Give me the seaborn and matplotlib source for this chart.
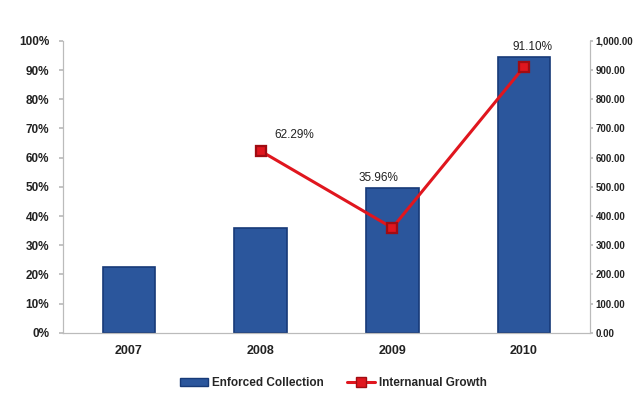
import matplotlib
matplotlib.use("Agg")
import matplotlib.pyplot as plt
from matplotlib.patches import Patch
from matplotlib.lines import Line2D
from matplotlib.ticker import FuncFormatter, MultipleLocator
import pandas as pd
import seaborn as sns

years = ["2007", "2008", "2009", "2010"]
enforced_collection = [226, 360, 497, 945]
growth_years = ["2008", "2009", "2010"]
internanual_growth = [62.29, 35.96, 91.10]

sns.set_theme(style="white")
plt.rcParams["font.family"] = ["Liberation Sans", "DejaVu Sans"]

bar_df = pd.DataFrame({"year": years, "value": enforced_collection})
line_df = pd.DataFrame({"year": growth_years, "growth": internanual_growth})

fig = plt.figure(figsize=(6.37, 4.01), dpi=100)
ax = fig.add_axes([0.099, 0.170, 0.827, 0.728])

# bars on the right-hand value scale
sns.barplot(data=bar_df, x="year", y="value", order=years, ax=ax,
            color="#2B569C", width=0.4, edgecolor="#173A78", linewidth=1.2,
            saturation=1)
ax.set_ylim(0, 1000)
ax.set_xlabel("")
ax.set_ylabel("")

# growth line on the left-hand percentage scale
ax2 = ax.twinx()
sns.pointplot(data=line_df, x="year", y="growth", order=years, ax=ax2,
              color="#E0161E", markers="s", linestyles="-",
              markersize=7, linewidth=2.2, markeredgecolor="#A00C12")
ax2.set_ylim(0, 100)
ax2.set_xlabel("")
ax2.set_ylabel("")
ax.set_xlim(-0.5, 3.5)

# value scale on the right, percentages on the left
ax.yaxis.tick_right()
ax.yaxis.set_label_position("right")
ax.yaxis.set_major_locator(MultipleLocator(100))
ax.yaxis.set_major_formatter(FuncFormatter(lambda v, p: f"{v:,.2f}"))
ax2.yaxis.tick_left()
ax2.yaxis.set_label_position("left")
ax2.yaxis.set_major_locator(MultipleLocator(10))
ax2.yaxis.set_major_formatter(FuncFormatter(lambda v, p: f"{v:.0f}%"))

offsets = {"2008": (24, 11.5), "2009": (-10, 36), "2010": (6, 14)}
for yr, g in zip(growth_years, internanual_growth):
    ax2.annotate(f"{g:.2f}%", (years.index(yr), g), textcoords="offset points",
                 xytext=offsets[yr], ha="center", va="center",
                 fontsize=8.5, color="#222222")

for a in (ax, ax2):
    a.spines["top"].set_visible(False)
    for s in ("left", "right", "bottom"):
        a.spines[s].set_color("#BBBBBB")
        a.spines[s].set_linewidth(0.8)

ax.tick_params(axis="y", which="major", right=True, left=False, length=2,
               color="#BBBBBB", pad=2, labelsize=7, labelcolor="#222222")
ax2.tick_params(axis="y", which="major", left=True, right=False, length=3,
                color="#BBBBBB", pad=7, labelsize=8.5, labelcolor="#222222")
ax.tick_params(axis="x", length=0, pad=9, labelsize=9, labelcolor="#222222")
for lbl in ax.get_yticklabels() + ax2.get_yticklabels() + ax.get_xticklabels():
    lbl.set_fontweight("bold")

handles = [Patch(facecolor="#2B569C", edgecolor="#173A78"),
           Line2D([0], [0], color="#E0161E", lw=2.2, marker="s",
                  markersize=7, markeredgecolor="#A00C12")]
fig.legend(handles, ["Enforced Collection", "Internanual Growth"],
           loc="center", bbox_to_anchor=(0.523, 0.045), ncol=2, frameon=False,
           prop={"weight": "bold", "size": 8.5}, handlelength=2.4,
           handletextpad=0.3, columnspacing=2.0)

fig.savefig("out.png", dpi=100, facecolor="white")
